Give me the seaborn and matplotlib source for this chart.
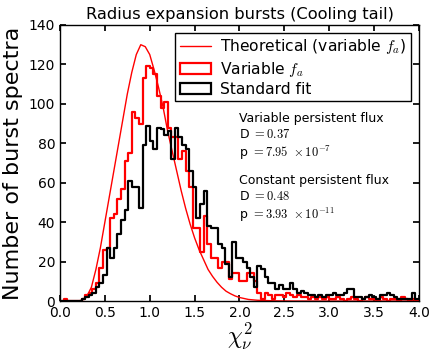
import matplotlib
matplotlib.use("Agg")
import matplotlib.pyplot as plt
import numpy as np
import pandas as pd
import seaborn as sns
from matplotlib.lines import Line2D
from matplotlib.patches import Patch

# histogram bins: 100 bins of width 0.04 from 0 to 4
bin_edges = [round(0.04 * i, 2) for i in range(101)]
bin_centers = [round(0.04 * i + 0.02, 2) for i in range(100)]

# counts (variable f_a fit)
variable_counts = [
    0, 1, 0, 0, 0, 0, 1, 3, 4, 6,
    9, 17, 26, 27, 42, 44, 52, 57, 71, 75,
    96, 93, 90, 113, 119, 118, 115, 104, 98, 101,
    88, 83, 83, 72, 76, 66, 58, 37, 37, 25,
    43, 29, 22, 22, 17, 20, 20, 11, 14, 14,
    10, 10, 14, 14, 10, 4, 1, 4, 3, 1,
    3, 3, 2, 4, 3, 2, 3, 2, 2, 1,
    2, 1, 2, 1, 2, 1, 1, 2, 1, 0,
    1, 2, 1, 0, 1, 2, 1, 1, 0, 2,
    1, 0, 1, 1, 0, 2, 1, 0, 1, 0,
]

# counts (standard fit)
standard_counts = [
    0, 0, 0, 0, 0, 0, 1, 2, 3, 4,
    7, 9, 13, 27, 22, 27, 34, 41, 46, 61,
    58, 58, 47, 79, 89, 81, 77, 88, 87, 84,
    86, 72, 88, 83, 79, 77, 66, 58, 42, 49,
    56, 38, 37, 37, 29, 27, 19, 12, 30, 22,
    22, 20, 17, 12, 7, 18, 16, 12, 9, 9,
    6, 8, 6, 6, 9, 6, 4, 5, 4, 3,
    3, 2, 3, 2, 3, 3, 4, 3, 3, 4,
    6, 6, 2, 2, 1, 2, 3, 2, 1, 3,
    3, 4, 3, 2, 1, 1, 1, 1, 4, 1,
]

# theoretical curve (variable f_a)
theory_x = [0.0, 0.20, 0.25, 0.30, 0.35, 0.40, 0.45, 0.50, 0.55, 0.60, 0.65,
            0.70, 0.75, 0.80, 0.85, 0.90, 0.95, 1.00, 1.05, 1.10, 1.15,
            1.20, 1.25, 1.30, 1.35, 1.40, 1.45, 1.50, 1.55, 1.60, 1.65,
            1.70, 1.75, 1.80, 1.85, 1.90, 1.95, 2.00, 2.10, 2.20, 2.40,
            2.60, 4.00]
theory_y = [0.0, 0.0, 0.5, 2.5, 7, 16, 27, 40, 53, 66, 79,
            92, 105, 116, 125, 130, 129, 125, 117, 108, 98,
            86, 76, 66, 56, 47, 39, 32, 26, 21, 16,
            12.5, 9.5, 7, 5, 3.7, 2.6, 1.8, 0.8, 0.4, 0.1,
            0.0, 0.0]

var_df = pd.DataFrame({"chi2": bin_centers, "count": variable_counts})
std_df = pd.DataFrame({"chi2": bin_centers, "count": standard_counts})
theory_df = pd.DataFrame({"chi2": theory_x, "n": theory_y})

sns.set_theme(style="ticks")
plt.rcParams.update({
    "font.family": ["DejaVu Sans"],
    "mathtext.fontset": "cm",
    "text.color": "black",
    "axes.labelcolor": "black",
    "xtick.color": "black",
    "ytick.color": "black",
    "xtick.direction": "in",
    "ytick.direction": "in",
    "xtick.top": True,
    "ytick.right": True,
    "xtick.major.size": 4,
    "ytick.major.size": 4,
    "axes.edgecolor": "black",
    "axes.linewidth": 1.0,
})

fig, ax = plt.subplots(figsize=(4.36, 3.55), dpi=100)
fig.subplots_adjust(left=0.1376, right=0.961, top=0.9296, bottom=0.152)

sns.lineplot(data=theory_df, x="chi2", y="n", color="red", lw=1.0, ax=ax)
sns.histplot(data=var_df, x="chi2", weights="count", bins=bin_edges,
             element="step", fill=False, color="red", lw=1.6, ax=ax)
sns.histplot(data=std_df, x="chi2", weights="count", bins=bin_edges,
             element="step", fill=False, color="black", lw=1.6, ax=ax)

ax.set_xlim(0, 4)
ax.set_ylim(0, 140)
ax.set_xticks(np.arange(0, 4.01, 0.5))
ax.set_yticks(np.arange(0, 141, 20))
ax.tick_params(labelsize=10, colors="black")
ax.set_title("Radius expansion bursts (Cooling tail)", fontsize=11.7, pad=4,
             color="black")
ax.set_xlabel(r"$\chi_\nu^2$", fontsize=17, labelpad=1)
ax.set_ylabel("Number of burst spectra", fontsize=16)

handles = [Line2D([0], [0], color="red", lw=1.0),
           Patch(facecolor="none", edgecolor="red", lw=1.6),
           Patch(facecolor="none", edgecolor="black", lw=1.6)]
labels = [r"Theoretical (variable $f_a$)", r"Variable $f_a$", "Standard fit"]
leg = ax.legend(handles, labels, loc="upper right", fontsize=11.2, frameon=True,
                fancybox=False, edgecolor="black", framealpha=1,
                labelspacing=0.2, borderpad=0.3, handletextpad=0.6,
                borderaxespad=0.5)
leg.get_frame().set_linewidth(1.0)
for t in leg.get_texts():
    t.set_color("black")

ax.text(0.5, 0.683, "Variable persistent flux\n" + r"D $= 0.37$" + "\n" + r"p $= 7.95\ \times 10^{-7}$",
        transform=ax.transAxes, fontsize=9, va="top", ha="left", linespacing=1.25,
        color="black")
ax.text(0.5, 0.459, "Constant persistent flux\n" + r"D $= 0.48$" + "\n" + r"p $= 3.93\ \times 10^{-11}$",
        transform=ax.transAxes, fontsize=9, va="top", ha="left", linespacing=1.25,
        color="black")

fig.savefig("out.png", dpi=100)
